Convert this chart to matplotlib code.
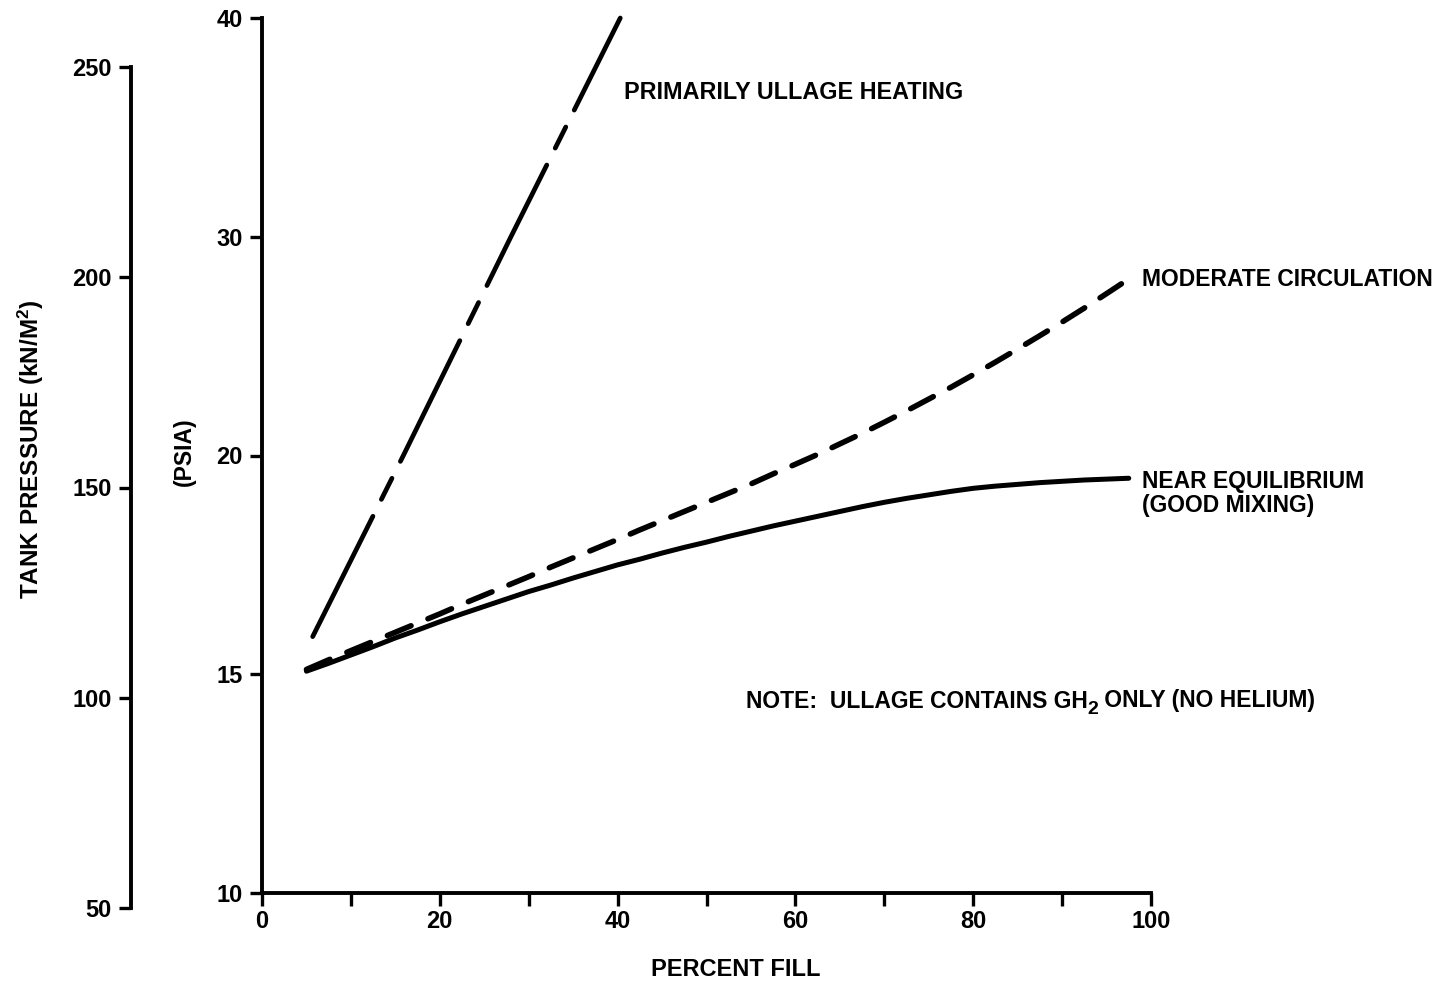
import numpy as np
import matplotlib
matplotlib.use('Agg')
import matplotlib.pyplot as plt

plt.rcParams['font.family'] = ['Liberation Sans', 'DejaVu Sans']
plt.rcParams['font.weight'] = 'bold'
plt.rcParams['mathtext.fontset'] = 'custom'
plt.rcParams['mathtext.rm'] = 'Liberation Sans:bold'
plt.rcParams['mathtext.bf'] = 'Liberation Sans:bold'
plt.rcParams['mathtext.it'] = 'Liberation Sans:bold'

# psia axis of the original is stretched: 10, 15, 20, 30, 40 sit at equal steps
psia_ticks = [10, 15, 20, 30, 40]
kn_ticks = [50, 100, 150, 200, 250]
fill_ticks = [0, 20, 40, 60, 80, 100]

# primarily ullage heating (straight line on the chart)
fill_heat = [5.7, 15.9, 28.0, 40.3]
psia_heat = [15.86, 20.0, 30.0, 40.0]

# moderate circulation
fill_mod = [5, 7.5, 10, 12.5, 15, 17.5, 20, 22.5, 25, 27.5, 30, 32.5, 35, 37.5,
            40, 42.5, 45, 47.5, 50, 52.5, 55, 57.5, 60, 62.5, 65, 67.5, 70, 72.5,
            75, 77.5, 80, 82.5, 85, 87.5, 90, 92.5, 95, 97.5]
psia_mod = [15.11, 15.33, 15.54, 15.75, 15.96, 16.17, 16.38, 16.60, 16.81, 17.02,
            17.23, 17.45, 17.66, 17.87, 18.08, 18.30, 18.51, 18.72, 18.93, 19.14,
            19.35, 19.58, 19.80, 20.05, 20.53, 21.01, 21.52, 22.04, 22.58, 23.12,
            23.69, 24.27, 24.87, 25.48, 26.10, 26.74, 27.40, 28.07]

# near equilibrium (good mixing)
fill_eq = [5, 7.5, 10, 12.5, 15, 17.5, 20, 22.5, 25, 27.5, 30, 32.5, 35, 37.5,
           40, 42.5, 45, 47.5, 50, 52.5, 55, 57.5, 60, 62.5, 65, 67.5, 70, 72.5,
           75, 77.5, 80, 82.5, 85, 87.5, 90, 92.5, 95, 97.5]
psia_eq = [15.07, 15.25, 15.44, 15.63, 15.83, 16.01, 16.20, 16.38, 16.55, 16.72,
           16.89, 17.04, 17.20, 17.35, 17.50, 17.63, 17.77, 17.90, 18.02, 18.15,
           18.27, 18.39, 18.50, 18.61, 18.72, 18.83, 18.93, 19.02, 19.10, 19.18,
           19.25, 19.30, 19.34, 19.38, 19.41, 19.44, 19.46, 19.48]

steps = np.arange(len(psia_ticks))


def fwd(v):                                   # psia -> equal-step position
    return np.interp(v, psia_ticks, steps)


def inv(v):                                   # position -> psia
    return np.interp(v, steps, psia_ticks)


W, H = 1440, 983
fig = plt.figure(figsize=(W / 100, H / 100), dpi=100)

# main plot (psia vs percent fill)
ax = fig.add_axes([262 / W, (H - 893) / H, (1151 - 262) / W, (893 - 18) / H])
ax.set_yscale('function', functions=(fwd, inv))
ax.set_xlim(0, 100)
ax.set_ylim(10, 40)
ax.set_yticks(psia_ticks)
ax.set_yticklabels([str(t) for t in psia_ticks])
ax.yaxis.set_minor_locator(matplotlib.ticker.NullLocator())
ax.set_xticks(fill_ticks)
ax.set_xticks(range(10, 100, 20), minor=True)
ax.set_xticklabels([str(t) for t in fill_ticks])
for s in ['top', 'right']:
    ax.spines[s].set_visible(False)
for s in ['left', 'bottom']:
    ax.spines[s].set_linewidth(2.8)
ax.tick_params(which='both', direction='out', length=9, width=2.4, labelsize=17)
ax.tick_params(axis='y', pad=5)
ax.tick_params(axis='x', pad=3)

ax.plot(fill_heat, psia_heat, color='black', lw=3.4,
        linestyle=(0, (28.5, 4.0, 5.0, 4.0)), dash_capstyle='round', clip_on=False)
ax.plot(fill_mod, psia_mod, color='black', lw=4.0,
        linestyle=(0, (4.6, 3.3)), dash_capstyle='round', clip_on=False)
ax.plot(fill_eq, psia_eq, color='black', lw=3.6,
        solid_capstyle='round', clip_on=False)

ax.text(40.7, 36.6, 'PRIMARILY ULLAGE HEATING', fontsize=16.8, fontweight='bold',
        ha='left', va='center')
ax.text(99.0, 28.06, 'MODERATE CIRCULATION', fontsize=16.5, fontweight='bold',
        ha='left', va='center', clip_on=False)
ax.text(99.0, 19.14, 'NEAR EQUILIBRIUM\n(GOOD MIXING)', fontsize=16.5, fontweight='bold',
        ha='left', va='center', linespacing=1.05, clip_on=False)

# note with a large, low subscript 2 as in the original lettering
note_y = 14.24
t1 = ax.text(54.4, note_y, 'NOTE:  ULLAGE CONTAINS GH', fontsize=16.5,
             fontweight='bold', ha='left', va='baseline')
t2 = ax.annotate('2', xy=(1, 0.15), xycoords=t1, fontsize=14, fontweight='bold',
                 ha='left', va='center')
ax.annotate(' ONLY (NO HELIUM)', xy=(1, note_y), xycoords=(t2, 'data'), fontsize=16.5,
            fontweight='bold', ha='left', va='baseline')

# second pressure scale, kN/m^2
ax2 = fig.add_axes([131 / W, (H - 908) / H, 0.0005, (908 - 67) / H])
ax2.patch.set_visible(False)
ax2.set_ylim(50, 250)
ax2.set_yticks(kn_ticks)
ax2.set_yticklabels([str(t) for t in kn_ticks])
ax2.set_xticks([])
for s in ['top', 'right', 'bottom']:
    ax2.spines[s].set_visible(False)
ax2.spines['left'].set_linewidth(2.8)
ax2.tick_params(direction='out', length=9, width=2.4, labelsize=17, pad=5)

fig.text(31 / W, (H - 449) / H, r'TANK PRESSURE (kN/M$^2$)', rotation=90,
         fontsize=17.5, fontweight='bold', ha='center', va='center')
fig.text(184 / W, (H - 452) / H, '(PSIA)', rotation=90,
         fontsize=16.5, fontweight='bold', ha='center', va='center')
fig.text(736 / W, (H - 970) / H, 'PERCENT FILL', fontsize=17,
         fontweight='bold', ha='center', va='center')

fig.savefig('out.png', dpi=100)
